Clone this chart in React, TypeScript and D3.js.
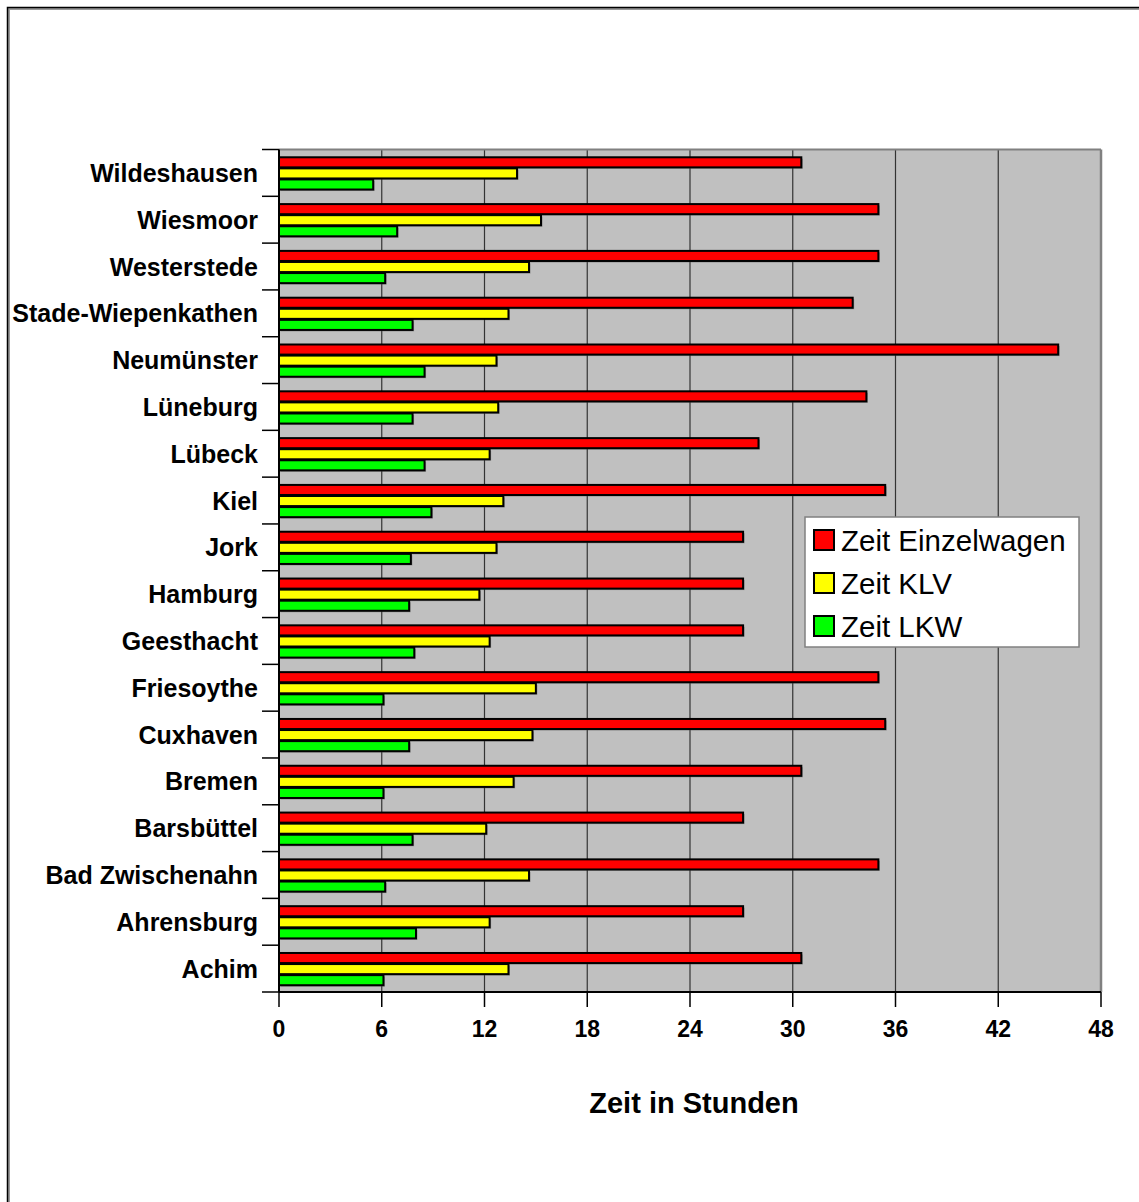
import React from "react";
import * as d3 from "d3";

const categories = [
  "Wildeshausen",
  "Wiesmoor",
  "Westerstede",
  "Stade-Wiepenkathen",
  "Neumünster",
  "Lüneburg",
  "Lübeck",
  "Kiel",
  "Jork",
  "Hamburg",
  "Geesthacht",
  "Friesoythe",
  "Cuxhaven",
  "Bremen",
  "Barsbüttel",
  "Bad Zwischenahn",
  "Ahrensburg",
  "Achim",
];

const zeitEinzelwagen = [30.5, 35, 35, 33.5, 45.5, 34.3, 28, 35.4, 27.1, 27.1, 27.1, 35, 35.4, 30.5, 27.1, 35, 27.1, 30.5];
const zeitKLV = [13.9, 15.3, 14.6, 13.4, 12.7, 12.8, 12.3, 13.1, 12.7, 11.7, 12.3, 15.0, 14.8, 13.7, 12.1, 14.6, 12.3, 13.4];
const zeitLKW = [5.5, 6.9, 6.2, 7.8, 8.5, 7.8, 8.5, 8.9, 7.7, 7.6, 7.9, 6.1, 7.6, 6.1, 7.8, 6.2, 8.0, 6.1];

const seriesNames = ["Zeit Einzelwagen", "Zeit KLV", "Zeit LKW"];
const seriesColors = ["#FF0000", "#FFFF00", "#00FF00"];
const seriesValues = [zeitEinzelwagen, zeitKLV, zeitLKW];

const xTicks = [0, 6, 12, 18, 24, 30, 36, 42, 48];
const xTitle = "Zeit in Stunden";

const W = 1139;
const H = 1202;
const plot = { left: 279, right: 1101, top: 149.5, bottom: 992 };
const FONT = "Arial, 'Liberation Sans', Helvetica, sans-serif";

export default function App() {
  const x = d3.scaleLinear().domain([0, 48]).range([plot.left, plot.right]);
  const y0 = d3
    .scaleBand<string>()
    .domain(categories)
    .range([plot.top, plot.bottom])
    .paddingInner(0.29)
    .paddingOuter(0.145);
  const y1 = d3
    .scaleBand<number>()
    .domain([0, 1, 2])
    .range([0, y0.bandwidth()]);
  const step = y0.step();
  const boundaries = d3.range(categories.length + 1).map((i) => plot.top + i * step);

  return (
    <svg
      width={W}
      height={H}
      viewBox={`0 0 ${W} ${H}`}
      style={{ position: "absolute", left: 0, top: 0, display: "block", background: "#fff" }}
    >
      {/* outer chart frame */}
      <rect x={9} y={9} width={W + 20} height={H + 20} fill="none" stroke="#999" strokeWidth={2} />
      <rect x={7.5} y={7.5} width={W + 20} height={H + 20} fill="none" stroke="#000" strokeWidth={1.5} />

      {/* plot area */}
      <rect
        x={plot.left}
        y={plot.top}
        width={plot.right - plot.left}
        height={plot.bottom - plot.top}
        fill="#C0C0C0"
      />

      {/* vertical gridlines */}
      {xTicks.slice(1, -1).map((t) => (
        <line
          key={`g${t}`}
          x1={x(t)}
          x2={x(t)}
          y1={plot.top}
          y2={plot.bottom}
          stroke="#333"
          strokeWidth={1.2}
        />
      ))}

      {/* plot border top and right */}
      <line x1={plot.left} x2={plot.right} y1={plot.top} y2={plot.top} stroke="#808080" strokeWidth={2} />
      <line x1={plot.right} x2={plot.right} y1={plot.top} y2={plot.bottom} stroke="#808080" strokeWidth={2.5} />

      {/* bars */}
      {categories.map((c, i) => (
        <g key={c} transform={`translate(0,${y0(c)})`}>
          {seriesValues.map((vals, s) => {
            const by = (y1(s) as number) + 1;
            const bh = y1.bandwidth() - 1;
            const bw = x(vals[i]) - x(0);
            return (
              <g key={s}>
                <rect x={x(0) + 1.5} y={by + 1.5} width={bw} height={bh} fill="#555" opacity={0.45} />
                <rect
                  x={x(0)}
                  y={by}
                  width={bw}
                  height={bh}
                  fill={seriesColors[s]}
                  stroke="#000"
                  strokeWidth={2}
                />
              </g>
            );
          })}
        </g>
      ))}

      {/* left axis */}
      <line x1={plot.left} x2={plot.left} y1={plot.top} y2={plot.bottom} stroke="#000" strokeWidth={2} />
      {boundaries.map((b, i) => (
        <line key={`yt${i}`} x1={262} x2={plot.left} y1={b} y2={b} stroke="#000" strokeWidth={1.5} />
      ))}
      {categories.map((c) => (
        <text
          key={`l${c}`}
          x={258}
          y={(y0(c) as number) + y0.bandwidth() / 2}
          textAnchor="end"
          dominantBaseline="central"
          fontFamily={FONT}
          fontWeight="bold"
          fontSize={25}
          fill="#000"
        >
          {c}
        </text>
      ))}

      {/* bottom axis */}
      <line x1={plot.left} x2={plot.right} y1={plot.bottom} y2={plot.bottom} stroke="#000" strokeWidth={2} />
      {xTicks.map((t) => (
        <g key={`xt${t}`}>
          <line x1={x(t)} x2={x(t)} y1={plot.bottom} y2={plot.bottom + 15} stroke="#000" strokeWidth={1.5} />
          <text
            x={x(t)}
            y={1037}
            textAnchor="middle"
            fontFamily={FONT}
            fontWeight="bold"
            fontSize={23}
            fill="#000"
          >
            {t}
          </text>
        </g>
      ))}
      <text
        x={694}
        y={1113}
        textAnchor="middle"
        fontFamily={FONT}
        fontWeight="bold"
        fontSize={29}
        fill="#000"
      >
        {xTitle}
      </text>

      {/* legend */}
      <g>
        <rect x={805} y={517} width={274} height={130} fill="#fff" stroke="#808080" strokeWidth={1.5} />
        {seriesNames.map((n, s) => {
          const cy = 540 + s * 43;
          return (
            <g key={n}>
              <rect x={814} y={cy - 10} width={20} height={20} fill={seriesColors[s]} stroke="#000" strokeWidth={2} />
              <text
                x={841}
                y={cy}
                dominantBaseline="central"
                fontFamily={FONT}
                fontSize={29.5}
                fill="#000"
              >
                {n}
              </text>
            </g>
          );
        })}
      </g>
    </svg>
  );
}
